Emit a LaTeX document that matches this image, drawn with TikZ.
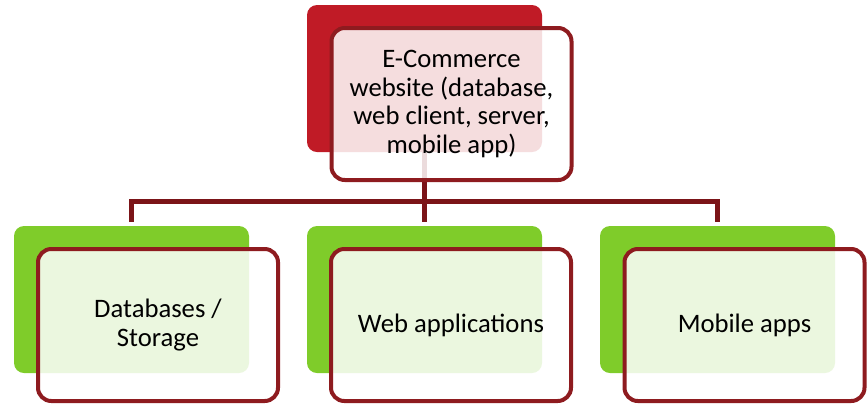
\documentclass[tikz,border=0pt]{standalone}
\usepackage{fontspec}
\setmainfont{Carlito}
\usepackage{xcolor}
\usetikzlibrary{positioning}
\definecolor{shopred}{HTML}{C01B26}
\definecolor{edgered}{HTML}{8E1B1F}
\definecolor{linkred}{HTML}{7B1418}
\definecolor{partgreen}{HTML}{7FCC2A}

\tikzset{
  backbox/.style={rounded corners=7.5pt,minimum width=176.25pt,minimum height=110.25pt,inner sep=0pt},
  frontbox/.style={draw=edgered,line width=3pt,rounded corners=10pt,fill=white,fill opacity=0.85,text opacity=1,
    minimum width=180pt,minimum height=114pt,align=center,font=\fontsize{20}{21.5}\selectfont},
  link/.style={draw=linkred,line width=3.75pt}
}

\begin{document}
\begin{tikzpicture}[x=0.75pt,y=-0.75pt]
        \useasboundingbox (0,0) rectangle (868,405);
        % coloured backing boxes
        \node[backbox,fill=shopred] (shop) at (424.5,78.5) {};
        \node[backbox,fill=partgreen] (dbback) at (131.5,299.5) {};
        \node[backbox,fill=partgreen] (webback) at (424.5,299.5) {};
        \node[backbox,fill=partgreen] (mobback) at (717.5,299.5) {};
        % tree connectors
        \coordinate (bus) at (424.5,201);
        \draw[link] (shop.south) -- (bus);
        \draw[link,shorten >=3pt] (bus) -| (dbback.north);
        \draw[link,shorten >=3pt] (bus) -- (webback.north);
        \draw[link,shorten >=3pt] (bus) -| (mobback.north);
        % outlined text boxes
        \node[frontbox] (shoptext) at (451.5,104) {E-Commerce\\website (database,\\web client, server,\\mobile app)};
        \node[frontbox] (db) at (158,325) {Databases /\\Storage};
        \node[frontbox] (web) at (451,325) {Web applications};
        \node[frontbox] (mob) at (744.5,325) {Mobile apps};
      \end{tikzpicture}
\end{document}
